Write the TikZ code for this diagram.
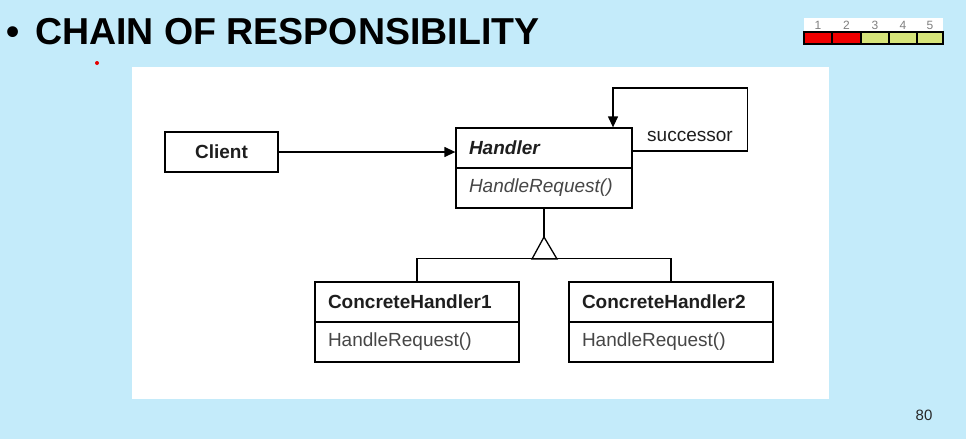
\documentclass[tikz,border=0pt]{standalone}
\usepackage{fontspec}
\setmainfont{Liberation Sans}
\usetikzlibrary{arrows.meta}

\definecolor{slidebg}{RGB}{196,235,250}
\definecolor{barred}{RGB}{240,0,0}
\definecolor{baryellow}{RGB}{214,228,122}
\definecolor{umltext}{RGB}{30,30,30}
\definecolor{methodtext}{RGB}{70,70,70}

\tikzset{
  uml/.style={draw=black, line width=1.3pt, fill=white, minimum height=40pt,
    text width=#1, align=left, inner xsep=13pt, inner ysep=0pt,
    font=\fontsize{19}{21}\selectfont, text=umltext},
  classname/.style={uml=#1, font=\fontsize{19}{21}\selectfont\bfseries},
  abstractname/.style={uml=#1, font=\fontsize{19}{21}\selectfont\bfseries\itshape},
  method/.style={uml=#1, text=methodtext},
  abstractmethod/.style={uml=#1, text=methodtext, font=\fontsize{19}{21}\selectfont\itshape},
  link/.style={line width=1.3pt, draw=black},
  assoc/.style={link, -{Triangle[length=11pt,width=10pt]}},
  cell/.style={draw=black, line width=1.4pt, minimum width=28pt, minimum height=12pt, inner sep=0pt},
  cellnum/.style={font=\fontsize{12}{13}\selectfont, text=black!50, inner sep=0pt, anchor=base},
}

\begin{document}
\begin{tikzpicture}[x=1pt, y=-1pt]
  % slide background and white figure panel
  \fill[slidebg] (0,0) rectangle (966,439);
  \useasboundingbox (0,0) rectangle (966,439);
  \fill[white] (132,67) rectangle (829,399);

  % title
  \node[anchor=base west, inner sep=0pt, font=\fontsize{37.5}{40}\selectfont\bfseries]
    (bullet) at (6,44) {•};
  \node[anchor=base west, inner sep=0pt, font=\fontsize{37.5}{40}\selectfont\bfseries]
    (title) at (35,44) {CHAIN OF RESPONSIBILITY};

  % progress indicator
  \fill[white] (804,18) rectangle (943,32);
  \node[cell, fill=barred]    (c1) at (818,38) {};
  \node[cell, fill=barred]    (c2) at (846.5,38) {};
  \node[cell, fill=baryellow] (c3) at (875,38) {};
  \node[cell, fill=baryellow] (c4) at (903,38) {};
  \node[cell, fill=baryellow, minimum width=26pt] (c5) at (930,38) {};
  \node[cellnum] (n1) at (818,29.5) {1};
  \node[cellnum] (n2) at (846.5,29.5) {2};
  \node[cellnum] (n3) at (875,29.5) {3};
  \node[cellnum] (n4) at (903,29.5) {4};
  \node[cellnum] (n5) at (930,29.5) {5};

  % small red pointer mark
  \fill[red!90!black] (97,63) circle (2pt);

  % page number
  \node[anchor=base, inner sep=0pt, font=\fontsize{15}{17}\selectfont, text=black!85]
    (page) at (924,420) {80};

  % classes
  \node[classname=87pt, align=center] (client) at (221.5,152) {Client};
  \node[abstractname=150pt] (handler) at (544,148) {Handler};
  \node[abstractmethod=150pt] (hreq) at (544,188) {HandleRequest()};
  \node[classname=178pt] (ch1) at (417,302) {ConcreteHandler1};
  \node[method=178pt] (ch1req) at (417,342) {HandleRequest()};
  \node[classname=178pt] (ch2) at (671,302) {ConcreteHandler2};
  \node[method=178pt] (ch2req) at (671,342) {HandleRequest()};

  % client -> handler
  \draw[assoc] (client.east) -- (handler.west |- client.east);

  % successor self-association
  \draw[assoc] ([yshift=-3pt]handler.east) -- ++(115,0) -- ++(0,-63) -| ([xshift=69pt]handler.north);
  \node[anchor=base, inner sep=0pt, font=\fontsize{19}{21}\selectfont, text=umltext]
    (succ) at (690,141) {successor};

  % generalization
  \coordinate (apex) at (544,237);
  \draw[link] (hreq.south) -- (apex);
  \draw[link, fill=white] (apex) -- ++(-12,22) -- ++(25,0) -- cycle;
  \draw[link] (ch1.north) -- ++(0,-23) -| (ch2.north);
\end{tikzpicture}
\end{document}
